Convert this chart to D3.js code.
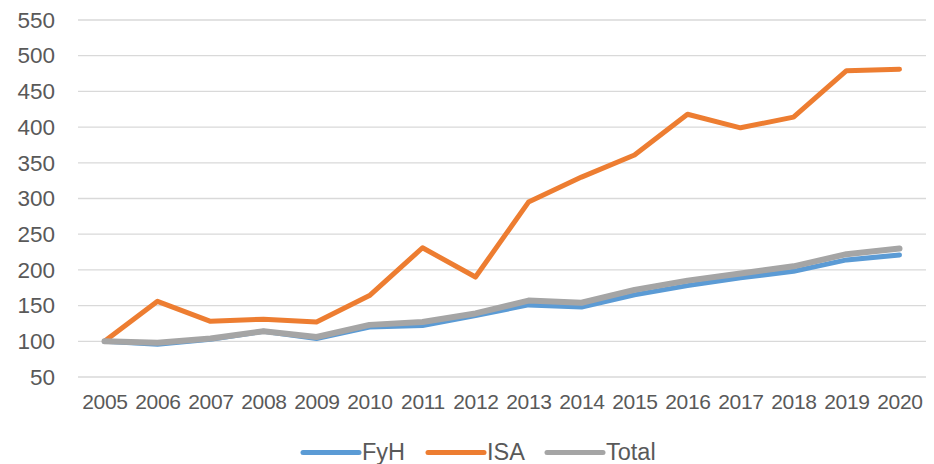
<!DOCTYPE html>
<html lang="es">
<head>
<meta charset="UTF-8" />
<title>FyH ISA Total</title>
<script src="https://cdnjs.cloudflare.com/ajax/libs/d3/7.8.5/d3.min.js"></script>
<style>
  * { margin: 0; padding: 0; box-sizing: border-box; }
  body { background: #fff; width: 934px; height: 464px; overflow: hidden; }
  svg { display: block; font-family: 'Liberation Sans', Arial, sans-serif; }
</style>
</head>
<body>
<svg id="chart" width="934" height="464"></svg>
<script>
  // datos
  const years = ['2005','2006','2007','2008','2009','2010','2011','2012','2013','2014','2015','2016','2017','2018','2019','2020'];
  const fyh   = [100, 96, 103, 114, 104, 120, 122, 136, 151, 148, 165, 178, 189, 198, 214, 221];
  const isa   = [100, 156, 128, 131, 127, 164, 231, 190, 295, 330, 361, 418, 399, 414, 479, 481];
  const total = [100, 98, 104, 114, 106, 123, 127, 139, 157, 154, 172, 185, 195, 205, 222, 230];
  const yTicks = [50, 100, 150, 200, 250, 300, 350, 400, 450, 500, 550];

  const series = [
    { name: 'FyH',   values: fyh,   color: '#5b9bd5', width: 5 },
    { name: 'ISA',   values: isa,   color: '#ed7d31', width: 5 },
    { name: 'Total', values: total, color: '#a5a5a5', width: 6 }
  ];

  const svg = d3.select('#chart');
  const plotL = 78, plotR = 926, plotT = 20, plotB = 377;

  const x = d3.scalePoint().domain(years).range([plotL, plotR]).padding(0.5);
  const y = d3.scaleLinear().domain([50, 550]).range([plotB, plotT]);

  // líneas de cuadrícula
  svg.append('g')
    .selectAll('line')
    .data(yTicks)
    .join('line')
    .attr('x1', plotL).attr('x2', plotR)
    .attr('y1', d => y(d)).attr('y2', d => y(d))
    .attr('stroke', '#d9d9d9').attr('stroke-width', 1.3);

  // eje Y
  const yAxis = svg.append('g')
    .attr('transform', `translate(${plotL - 23},0)`)
    .call(d3.axisLeft(y).tickValues(yTicks).tickSize(0).tickPadding(0));
  yAxis.select('.domain').remove();
  yAxis.selectAll('text')
    .attr('fill', '#595959')
    .attr('font-size', 22.5)
    .attr('font-family', "'Liberation Sans', Arial, sans-serif");

  // eje X
  const xAxis = svg.append('g')
    .attr('transform', `translate(0,${plotB + 17})`)
    .call(d3.axisBottom(x).tickSize(0).tickPadding(0));
  xAxis.select('.domain').remove();
  xAxis.selectAll('text')
    .attr('fill', '#595959')
    .attr('font-size', 21)
    .attr('letter-spacing', -0.3)
    .attr('font-family', "'Liberation Sans', Arial, sans-serif");

  // series
  const line = d3.line()
    .x((d, i) => x(years[i]))
    .y(d => y(d));

  svg.append('g')
    .selectAll('path')
    .data(series)
    .join('path')
    .attr('d', d => line(d.values))
    .attr('fill', 'none')
    .attr('stroke', d => d.color)
    .attr('stroke-width', d => d.width)
    .attr('stroke-linejoin', 'round')
    .attr('stroke-linecap', 'round');

  // leyenda
  const legendX = [303, 428, 547];
  const legend = svg.append('g')
    .selectAll('g')
    .data(series)
    .join('g')
    .attr('transform', (d, i) => `translate(${legendX[i]},452.5)`);
  legend.append('line')
    .attr('x1', 0).attr('x2', 56)
    .attr('stroke', d => d.color)
    .attr('stroke-width', 5)
    .attr('stroke-linecap', 'round');
  legend.append('text')
    .attr('x', 59).attr('y', 7)
    .attr('fill', '#595959')
    .attr('font-size', 23.5)
    .text(d => d.name);
</script>
</body>
</html>
